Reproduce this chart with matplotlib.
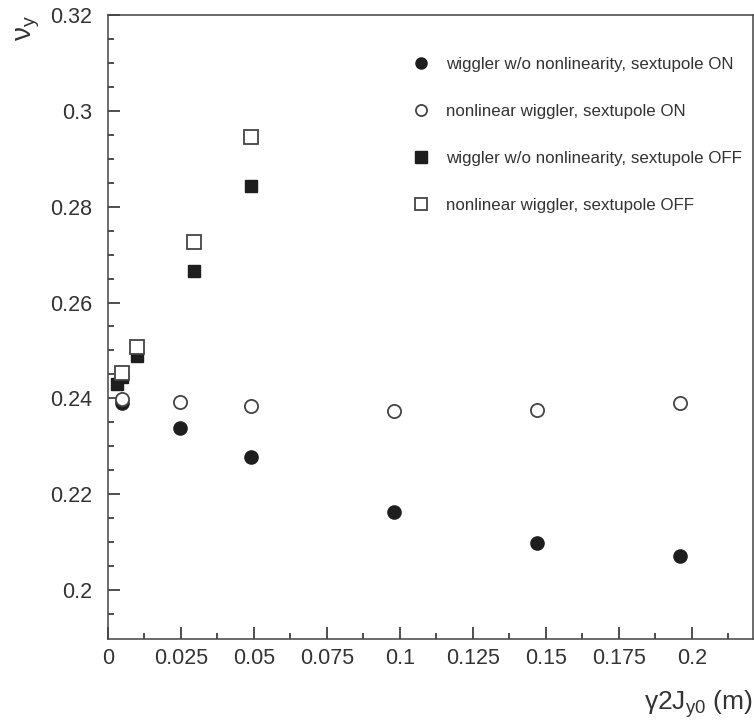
import numpy as np
import matplotlib
matplotlib.use("Agg")
import matplotlib.pyplot as plt

plt.rcParams['font.family'] = ['Liberation Sans', 'DejaVu Sans']
plt.rcParams['mathtext.fontset'] = 'custom'
plt.rcParams['mathtext.rm'] = 'Liberation Sans'
plt.rcParams['mathtext.it'] = 'Liberation Sans:italic'
plt.rcParams['mathtext.cal'] = 'Liberation Sans'

# DATA
x_on = [0.0049, 0.0245, 0.049, 0.098, 0.147, 0.196]
nu_lin_on = [0.2390, 0.2338, 0.2277, 0.2163, 0.2098, 0.2071]
nu_nl_on = [0.2398, 0.2392, 0.2385, 0.2374, 0.2375, 0.2390]

x_lin_off = [0.0031, 0.0049, 0.0098, 0.0294, 0.049]
nu_lin_off = [0.2429, 0.2444, 0.2488, 0.2665, 0.2844]

x_nl_off = [0.0049, 0.0098, 0.0294, 0.049]
nu_nl_off = [0.2454, 0.2508, 0.2727, 0.2946]

labels = ["wiggler w/o nonlinearity, sextupole ON",
          "nonlinear wiggler, sextupole ON",
          "wiggler w/o nonlinearity, sextupole OFF",
          "nonlinear wiggler, sextupole OFF"]

xtick_labels = ['0', '0.025', '0.05', '0.075', '0.1', '0.125', '0.15', '0.175', '0.2']
ytick_labels = ['0.2', '0.22', '0.24', '0.26', '0.28', '0.3', '0.32']

INK = '#1e1e1e'

# FIGURE
fig = plt.figure(figsize=(7.54, 7.23), dpi=100)
ax = fig.add_axes([0.1432, 0.1162, 0.8555, 0.8631])

ax.plot(x_on, nu_lin_on, 'o', ms=9.5, mfc=INK, mec=INK, ls='none', label=labels[0])
ax.plot(x_on, nu_nl_on, 'o', ms=9.5, mfc='white', mec='#444444', mew=1.3, ls='none', label=labels[1])
ax.plot(x_lin_off, nu_lin_off, 's', ms=9, mfc=INK, mec=INK, ls='none', label=labels[2])
ax.plot(x_nl_off, nu_nl_off, 's', ms=9.5, mfc='white', mec='#444444', mew=1.3, ls='none', label=labels[3])

ax.set_xlim(0, 0.2209)
ax.set_ylim(0.1898, 0.32)

# ticks: majors labelled, minors in between
ax.set_xticks(np.arange(0, 0.22, 0.025))
ax.set_xticklabels(xtick_labels)
ax.set_xticks(np.arange(0.0125, 0.221, 0.025), minor=True)
ax.set_yticks(np.arange(0.20, 0.321, 0.02))
ax.set_yticklabels(ytick_labels)
ax.set_yticks(np.arange(0.195, 0.3201, 0.005), minor=True)

ax.tick_params(which='both', direction='in', colors=INK, width=1.1)
ax.tick_params(which='major', length=8.5, labelsize=15.5, labelcolor='#333333')
ax.tick_params(which='minor', length=4.3)
ax.tick_params(axis='y', pad=11.5)
ax.tick_params(axis='x', pad=6.5)

for sp in ax.spines.values():
    sp.set_color('#444444')
    sp.set_linewidth(1.1)

ax.set_xlabel(r'$\mathregular{\gamma 2J_{y0}}$ (m)', loc='right', fontsize=19,
              color='#333333', labelpad=14)
ax.set_ylabel(r'$\mathregular{\nu_y}$', loc='top', fontsize=20, color='#333333',
              rotation=90, labelpad=6)

leg = ax.legend(loc='upper left', bbox_to_anchor=(0.4727, 0.932), frameon=False,
                fontsize=12.2, labelspacing=1.88, handlelength=1.0,
                handletextpad=0.93, borderpad=0, borderaxespad=0, numpoints=1)
for t in leg.get_texts():
    t.set_color('#333333')
for h in leg.legend_handles:
    h.set_markersize(8)

fig.savefig('out.png', dpi=100)
